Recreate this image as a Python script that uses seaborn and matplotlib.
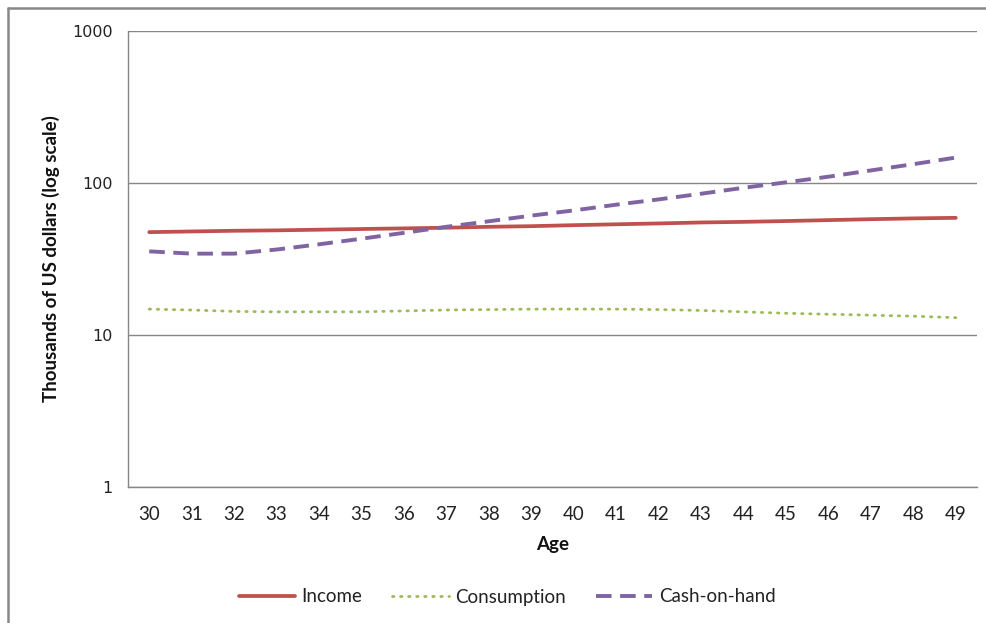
import matplotlib
matplotlib.use("Agg")
import matplotlib.pyplot as plt
from matplotlib.lines import Line2D
from matplotlib.ticker import FixedLocator, NullLocator, FixedFormatter
import seaborn as sns
import pandas as pd

ages = list(range(30, 50))
income = [47.5, 48.0, 48.5, 48.8, 49.3, 49.8, 50.3, 50.8, 51.5, 52.0,
          52.8, 53.5, 54.2, 55.0, 55.5, 56.2, 57.0, 57.8, 58.5, 59.0]
consumption = [14.8, 14.6, 14.3, 14.2, 14.2, 14.2, 14.4, 14.6, 14.7, 14.8,
               14.8, 14.8, 14.7, 14.5, 14.2, 13.9, 13.7, 13.5, 13.3, 13.0]
cash_on_hand = [35.5, 34.3, 34.3, 36.5, 39.5, 43.0, 47.0, 51.5, 56.0, 61.0,
                66.0, 72.0, 78.0, 85.0, 93.0, 101.0, 110.0, 121.0, 133.0, 147.0]
y_ticks = [1, 10, 100, 1000]
y_tick_labels = ["1", "10", "100", "1000"]
series_names = ["Income", "Consumption", "Cash-on-hand"]

sns.set_style("white")
narrow = ["Lato", "DejaVu Sans"]
plt.rcParams['font.family'] = narrow

fig = plt.figure(figsize=(9.87, 6.23), dpi=100)
W, H = 987, 623
ax = fig.add_axes([128 / W, 1 - 487 / H, (977 - 128) / W, (487 - 31) / H])

df = pd.DataFrame({"Age": ages, "Income": income, "Consumption": consumption,
                   "Cash-on-hand": cash_on_hand})

red = "#C0504D"
green = "#9BBB59"
purple = "#8064A2"

sns.lineplot(data=df, x="Age", y="Income", ax=ax, color=red, linewidth=2.7,
             solid_capstyle="round", zorder=3)
sns.lineplot(data=df, x="Age", y="Consumption", ax=ax, color=green, linewidth=2.0,
             zorder=3)
sns.lineplot(data=df, x="Age", y="Cash-on-hand", ax=ax, color=purple, linewidth=2.8,
             zorder=3)
lines = ax.get_lines()
lines[1].set_dashes([0.5, 2.4])
lines[1].set_dash_capstyle("round")
lines[2].set_dashes([4.0, 2.2])

ax.set_yscale("log")
ax.set_ylim(1, 1000)
ax.set_xlim(29.5, 49.5)

ax.yaxis.set_major_locator(FixedLocator(y_ticks))
ax.yaxis.set_major_formatter(FixedFormatter(y_tick_labels))
ax.yaxis.set_minor_locator(NullLocator())
ax.grid(axis="y", which="major", color="#868686", linewidth=1.0)
ax.grid(axis="x", visible=False)

ax.set_xticks(ages)
ax.set_xticklabels([str(a) for a in ages])
ax.set_xticks([a - 0.5 for a in ages] + [49.5], minor=True)
ax.tick_params(axis="x", which="major", length=0, pad=14, labelsize=13.5, labelcolor="#222222")
ax.tick_params(axis="x", which="minor", length=6, width=1, color="#868686", direction="out")
ax.tick_params(axis="y", which="major", length=6, width=1, color="#868686",
               direction="out", pad=5, labelsize=11.5, labelcolor="#222222")
for lab in ax.get_yticklabels():
    lab.set_fontfamily(["DejaVu Sans"])

for side in ["top", "right"]:
    ax.spines[side].set_visible(False)
for side in ["left", "bottom"]:
    ax.spines[side].set_color("#868686")
    ax.spines[side].set_linewidth(1.0)

ax.set_xlabel("Age", fontsize=13.5, fontweight="bold", labelpad=9, color="#111111")
ax.set_ylabel("Thousands of US dollars (log scale)", fontsize=13.5, fontweight="bold",
              labelpad=9, color="#111111")

handles = [Line2D([], [], color=red, linewidth=2.7),
           Line2D([], [], color=green, linewidth=2.0, dashes=[0.5, 2.4], dash_capstyle="round"),
           Line2D([], [], color=purple, linewidth=2.8, dashes=[4.0, 2.2])]
leg = fig.legend(handles, series_names, loc="center", bbox_to_anchor=(507 / W, 1 - 597 / H),
                 ncol=3, frameon=False, fontsize=13.5, handlelength=3.0, handletextpad=0.35,
                 columnspacing=1.6)
for t in leg.get_texts():
    t.set_color("#222222")

# outer border (top and left, as in reference)
fig.add_artist(Line2D([8 / W, 1.0], [1 - 8 / H, 1 - 8 / H], transform=fig.transFigure,
                      color="#888888", linewidth=1.8))
fig.add_artist(Line2D([8 / W, 8 / W], [0, 1 - 8 / H], transform=fig.transFigure,
                      color="#888888", linewidth=1.8))

fig.savefig("out.png", dpi=100, facecolor="white")
